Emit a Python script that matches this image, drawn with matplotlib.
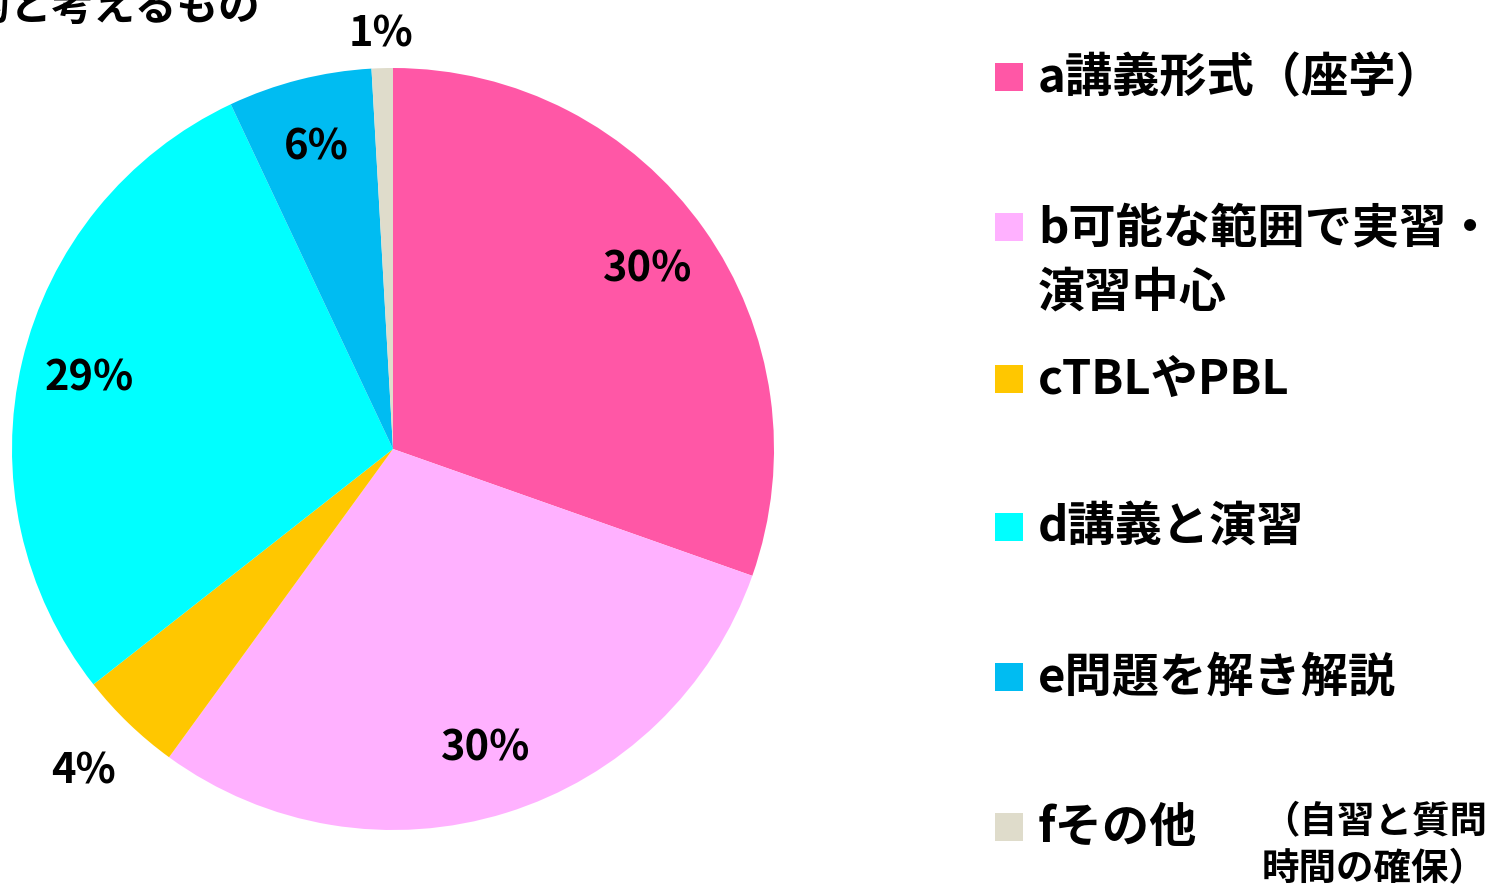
import matplotlib.pyplot as plt
import numpy as np
from matplotlib.patches import Rectangle

plt.rcParams['font.family'] = ['Noto Sans CJK JP', 'DejaVu Sans']
plt.rcParams['font.weight'] = 'bold'

# データ
categories = ['a講義形式（座学）', 'b可能な範囲で実習・\n演習中心', 'cTBLやPBL',
              'd講義と演習', 'e問題を解き解説', 'fその他']
values = [30.4, 29.6, 4.4, 28.6, 6.1, 0.9]
colors = ['#FF57A6', '#FFB1FF', '#FFC700', '#00FFFF', '#00BCF2', '#DFDCCB']
f_note = '（自習と質問\n時間の確保）'
title = '効果的と考えるもの'

W, H = 1502, 887
fig = plt.figure(figsize=(W / 100, H / 100), dpi=100)

cx, cy, r = 393, 450, 381
ax = fig.add_axes([(cx - r) / W, (H - cy - r) / H, 2 * r / W, 2 * r / H])
wedges, texts, autotexts = ax.pie(values, colors=colors, startangle=90, counterclock=False,
                                  autopct='%.0f%%', pctdistance=0.82,
                                  textprops=dict(fontsize=30, fontweight='bold', color='black'))
ax.set_xlim(-1, 1)
ax.set_ylim(-1, 1)
ax.set_aspect('equal')

# 小さい扇形のラベルは外側へ
for i, dist in [(2, 1.17), (5, 1.09)]:
    w = wedges[i]
    ang = np.deg2rad((w.theta1 + w.theta2) / 2)
    autotexts[i].set_position((dist * np.cos(ang), dist * np.sin(ang)))

# タイトル（上端で切れている）
fig.text(260 / W, 1 - 20 / H, title, ha='right', va='baseline', fontsize=30, fontweight='bold')

# 凡例を手で描く
leg_y = [78, 228, 380, 528, 678, 828]
for lab, col, y in zip(categories, colors, leg_y):
    fig.patches.append(Rectangle((995 / W, 1 - (y + 14) / H), 28 / W, 28 / H,
                                 transform=fig.transFigure, facecolor=col, edgecolor='none'))
    fig.text(1038 / W, 1 - y / H, lab, ha='left', va='top' if '\n' in lab else 'center',
             fontsize=34, fontweight='bold', linespacing=1.42)
# 二行の項目は上揃えにしたので位置調整
fig.texts[-5].set_y(1 - (228 - 23) / H)

fig.text(1262 / W, 1 - 845 / H, f_note, ha='left', va='center', fontsize=27,
         fontweight='bold', linespacing=1.25)

fig.savefig('out.png', dpi=100)
